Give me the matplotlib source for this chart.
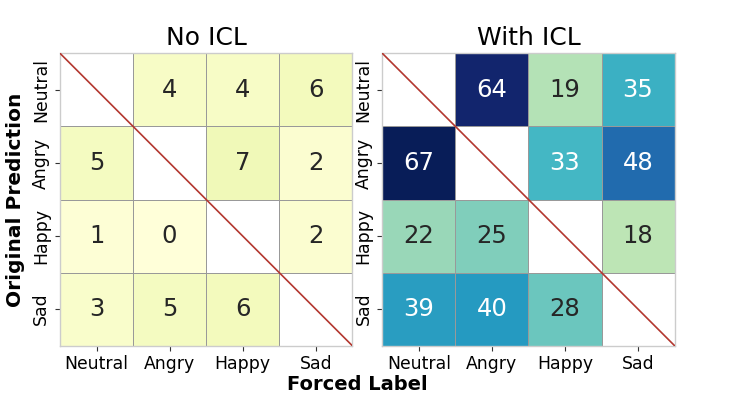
import numpy as np
import matplotlib
matplotlib.use("Agg")
import matplotlib.pyplot as plt
import seaborn as sns

labels = ["Neutral", "Angry", "Happy", "Sad"]
no_icl = [[0, 4, 4, 6],
          [5, 0, 7, 2],
          [1, 0, 0, 2],
          [3, 5, 6, 0]]
with_icl = [[0, 64, 19, 35],
            [67, 0, 33, 48],
            [22, 25, 0, 18],
            [39, 40, 28, 0]]
titles = ["No ICL", "With ICL"]

plt.rcParams['font.family'] = ['DejaVu Sans']
W, H = 754, 396
fig = plt.figure(figsize=(W / 100, H / 100), dpi=100)

mask = np.eye(4, dtype=bool)
vmax = max(max(r) for r in with_icl)
lefts = [60, 382.3]
for i, (data, title) in enumerate(zip([no_icl, with_icl], titles)):
    ax = fig.add_axes([lefts[i] / W, 1 - 345.7 / H, 292.3 / W, 292.4 / H])
    sns.heatmap(np.array(data), mask=mask, cmap="YlGnBu", vmin=0, vmax=vmax,
                annot=True, fmt="d", annot_kws={"size": 17.5},
                linewidths=0.6, linecolor="#999999", cbar=False, ax=ax,
                xticklabels=labels, yticklabels=labels, square=False)
    ax.plot([0, 4], [0, 4], color="#b3372f", lw=1.2, zorder=5)
    for s in ax.spines.values():
        s.set_visible(True)
        s.set_color("#cccccc")
        s.set_linewidth(1.0)
    ax.set_title(title, fontsize=18, pad=6)
    ax.tick_params(axis='both', labelsize=12.4, length=3.5, width=0.8, color="#333333")
    plt.setp(ax.get_yticklabels(), rotation=90, va="center")
    plt.setp(ax.get_xticklabels(), rotation=0)

fig.text(357 / W, 1 - 385 / H, "Forced Label", fontsize=14, fontweight="bold",
         ha="center", va="center")
fig.text(16 / W, 1 - 200 / H, "Original Prediction", fontsize=14.5, fontweight="bold",
         ha="center", va="center", rotation=90)

fig.savefig("out.png", dpi=100)
